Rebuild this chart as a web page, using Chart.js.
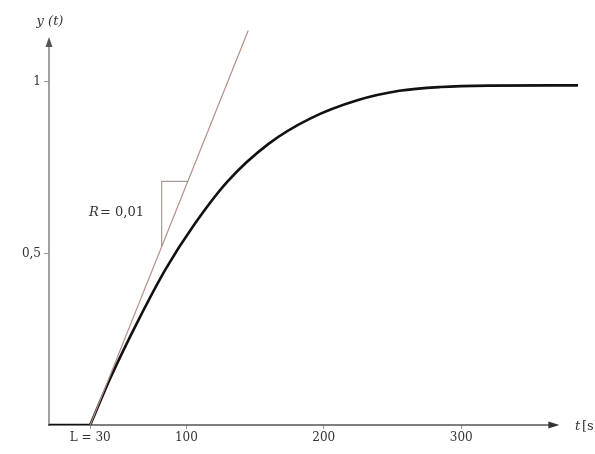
<!DOCTYPE html>
<html>
<head>
<meta charset="utf-8">
<script src="https://cdn.jsdelivr.net/npm/chart.js@4.4.0/dist/chart.umd.min.js"></script>
<style>
  html, body { margin: 0; padding: 0; background: #fff; }
  #wrap { width: 595px; height: 454px; }
</style>
</head>
<body>
<div id="wrap"><canvas id="c" width="595" height="454"></canvas></div>
<script>
  // dead time part, y = 0 until t = L
  const deadT = [0, 30];
  const deadY = [0, 0];

  // step response y(t) after L
  const respT = [30, 45, 65, 85, 105, 130, 160, 190, 225, 255, 285, 320, 385];
  const respY = [0, 0.14, 0.305, 0.455, 0.58, 0.71, 0.82, 0.893, 0.947, 0.974, 0.985, 0.989, 0.99];

  // tangent at t = L, slope R
  const tangentT = [30, 145];
  const tangentY = [0, 1.15];

  // slope triangle
  const triT = [82, 82, 101];
  const triY = [0.52, 0.71, 0.71];

  const xTicks = [30, 100, 200, 300];
  const xTickLabels = ["L = 30", "100", "200", "300"];
  const yTicks = [0.5, 1];
  const yTickLabels = ["0,5", "1"];

  const serif = "'DejaVu Serif', 'Liberation Serif', serif";

  const toPts = (xs, ys) => xs.map((x, i) => ({x: x, y: ys[i]}));

  const axesPlugin = {
    id: "axes",
    beforeDatasetsDraw(chart) {
      const {ctx} = chart;
      const xs = chart.scales.x;
      const ys = chart.scales.y;
      const x0 = xs.getPixelForValue(0);
      const y0 = ys.getPixelForValue(0);
      ctx.save();
      // y axis
      ctx.strokeStyle = "#8a8a8a";
      ctx.lineWidth = 1.6;
      ctx.beginPath();
      ctx.moveTo(x0, y0 + 1);
      ctx.lineTo(x0, 44);
      ctx.stroke();
      ctx.fillStyle = "#555";
      ctx.beginPath();
      ctx.moveTo(x0, 37);
      ctx.lineTo(x0 - 3.5, 47);
      ctx.lineTo(x0 + 3.5, 47);
      ctx.closePath();
      ctx.fill();
      // x axis
      const xEnd = xs.getPixelForValue(370);
      ctx.strokeStyle = "#555";
      ctx.lineWidth = 1.6;
      ctx.beginPath();
      ctx.moveTo(x0 - 1, y0);
      ctx.lineTo(xEnd - 6, y0);
      ctx.stroke();
      ctx.fillStyle = "#333";
      ctx.beginPath();
      ctx.moveTo(xEnd + 2, y0);
      ctx.lineTo(xEnd - 9, y0 - 3.5);
      ctx.lineTo(xEnd - 9, y0 + 3.5);
      ctx.closePath();
      ctx.fill();
      ctx.restore();
    },
    afterDraw(chart) {
      const {ctx} = chart;
      const xs = chart.scales.x;
      const ys = chart.scales.y;
      ctx.save();
      ctx.fillStyle = "#333";
      ctx.textBaseline = "middle";
      ctx.textAlign = "center";
      ctx.font = "italic 13px " + serif;
      ctx.fillText("y (t)", xs.getPixelForValue(0) + 1, 22);
      ctx.textAlign = "left";
      ctx.fillText("t", 575, ys.getPixelForValue(0) + 2);
      ctx.font = "13px " + serif;
      ctx.fillText("[s]", 582, ys.getPixelForValue(0) + 2);
      ctx.font = "italic 13px " + serif;
      ctx.fillText("R", 89, 213);
      ctx.font = "13px " + serif;
      ctx.fillText("= 0,01", 100, 213);
      ctx.restore();
    },
  };

  new Chart(document.getElementById("c"), {
    type: "scatter",
    data: {
      datasets: [
        {
          data: toPts(tangentT, tangentY),
          showLine: true,
          borderColor: "#b09289",
          borderWidth: 1.2,
          pointRadius: 0,
        },
        {
          data: toPts(triT, triY),
          showLine: true,
          borderColor: "#a89a96",
          borderWidth: 1.2,
          pointRadius: 0,
        },
        {
          data: toPts(deadT, deadY),
          showLine: true,
          borderColor: "#111",
          borderWidth: 2.6,
          pointRadius: 0,
        },
        {
          data: toPts(respT, respY),
          showLine: true,
          borderColor: "#111",
          borderWidth: 2.6,
          pointRadius: 0,
          cubicInterpolationMode: "monotone",
        },
      ],
    },
    options: {
      responsive: false,
      animation: false,
      layout: {padding: {top: 27, right: 17, bottom: 0, left: 0}},
      plugins: {legend: {display: false}, tooltip: {enabled: false}},
      scales: {
        x: {
          type: "linear",
          min: 0,
          max: 385,
          afterFit: (s) => { s.height = 29; },
          afterBuildTicks: (s) => { s.ticks = xTicks.map((v) => ({value: v})); },
          border: {display: false},
          grid: {drawOnChartArea: false, drawTicks: true, tickLength: 4, color: "#999", tickWidth: 1},
          ticks: {
            maxRotation: 0,
            autoSkip: false,
            padding: 2,
            color: "#333",
            font: {family: serif, size: 12},
            callback: (v) => xTickLabels[xTicks.indexOf(v)],
          },
        },
        y: {
          type: "linear",
          min: 0,
          max: 1.16,
          afterFit: (s) => { s.width = 49; },
          afterBuildTicks: (s) => { s.ticks = yTicks.map((v) => ({value: v})); },
          border: {display: false},
          grid: {drawOnChartArea: false, drawTicks: true, tickLength: 5, color: "#999", tickWidth: 1},
          ticks: {
            padding: 3,
            color: "#333",
            font: {family: serif, size: 12},
            callback: (v) => yTickLabels[yTicks.indexOf(v)],
          },
        },
      },
    },
    plugins: [axesPlugin],
  });
</script>
</body>
</html>
